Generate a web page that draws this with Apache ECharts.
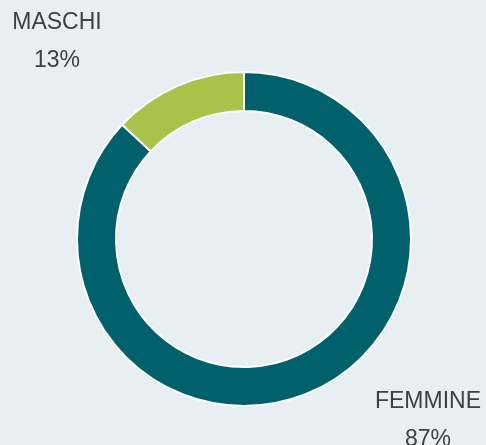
<!DOCTYPE html>
<html>
<head>
<meta charset="utf-8">
<script src="https://cdn.jsdelivr.net/npm/echarts@6/dist/echarts.min.js"></script>
<style>
html,body{margin:0;padding:0;background:#e7eff3;}
#c{width:486px;height:445px;}
</style>
</head>
<body>
<div id="c"></div>
<script>
const categories = ['FEMMINE', 'MASCHI'];
const values = [87, 13];
const colors = ['#00616d', '#a8c349'];

const chart = echarts.init(document.getElementById('c'), null, {renderer: 'canvas'});
const labelPos = {
  'FEMMINE': {x: 428, y: 421},
  'MASCHI': {x: 57, y: 42}
};
chart.setOption({
  backgroundColor: '#e7eff3',
  animation: false,
  series: [{
    type: 'pie',
    center: [244, 239],
    radius: [128, 167],
    startAngle: 90,
    clockwise: true,
    data: categories.map((c, i) => ({name: c, value: values[i], itemStyle: {color: colors[i]}})),
    itemStyle: {borderColor: '#ffffff', borderWidth: 2},
    label: {
      show: true,
      position: 'outside',
      formatter: '{b}\n{d}%',
      fontFamily: 'Liberation Sans',
      fontSize: 23,
      lineHeight: 38,
      color: '#404040',
      align: 'center'
    },
    labelLine: {show: false},
    labelLayout: function (p) {
      const pos = labelPos[categories[p.dataIndex]];
      return {x: pos.x, y: pos.y, align: 'center', verticalAlign: 'middle', hideOverlap: false};
    },
    emphasis: {disabled: true}
  }]
});
</script>
</body>
</html>
